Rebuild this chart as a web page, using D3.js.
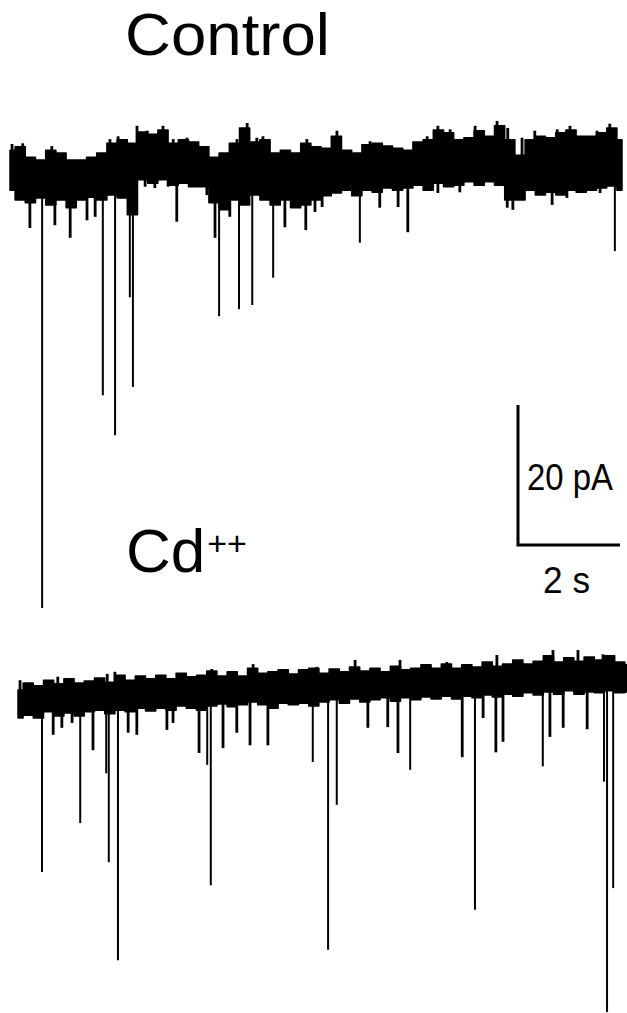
<!DOCTYPE html>
<html>
<head>
<meta charset="utf-8">
<script src="https://cdn.jsdelivr.net/npm/d3@7"></script>
<style>
  body { margin: 0; background: #fff; }
  svg { display: block; }
  text { font-family: "Liberation Sans", Arial, sans-serif; fill: #000; }
</style>
</head>
<body>
<svg id="fig"></svg>
<script>
// Whole-cell recording, two 12 s sweeps. Time in s, current in pA relative to holding level.
const sampleTimes = d3.range(61).map(i => i * 0.2); // envelope read every 0.2 s

// Control: upper / lower edge of the noise band
const controlUpper = [3.1, 3.6, 2.1, 1.7, 3.1, 2.7, 1.7, 1.7, 2.1, 2.7, 4.1, 4.6, 4.1, 5.7, 5.4, 6.0,
  4.1, 4.6, 4.3, 3.6, 2.1, 2.7, 4.1, 6.3, 4.3, 4.6, 2.7, 3.1, 2.7, 4.1, 3.6, 3.4, 5.1, 3.1, 2.7, 3.9,
  4.1, 3.7, 3.4, 3.1, 4.3, 4.6, 6.0, 5.6, 4.6, 4.9, 5.9, 5.1, 6.6, 4.6, 2.4, 4.6, 5.1, 4.9, 5.6, 6.0,
  5.1, 5.1, 5.6, 6.3, 4.6];
const controlLower = [-2.6, -4.0, -4.4, -3.7, -4.7, -4.0, -5.1, -4.0, -3.6, -4.0, -3.3, -3.7, -6.1,
  -1.1, -1.6, -1.1, -1.9, -1.6, -2.1, -2.1, -4.4, -5.4, -4.0, -4.7, -3.3, -4.0, -4.7, -4.0, -5.1, -4.7,
  -4.0, -3.4, -3.0, -2.6, -3.4, -2.6, -2.9, -2.3, -2.6, -2.3, -1.9, -2.6, -1.6, -2.1, -1.9, -1.4, -1.9,
  -1.4, -1.9, -4.0, -4.0, -2.6, -3.3, -2.9, -3.3, -2.6, -2.9, -2.6, -2.3, -2.0, -2.6];

// Control: inward synaptic currents (time, peak)
const controlEventTimes = [0.63, 1.82, 2.06, 2.35, 2.41, 4.10, 4.49, 4.75, 5.16, 0.39, 0.88, 1.18,
  1.51, 1.67, 2.65, 2.84, 3.10, 3.27, 3.59, 3.86, 4.02, 4.31, 5.39, 5.80, 5.98, 6.12, 6.86, 7.25, 7.61,
  7.80, 8.39, 8.82, 9.75, 9.86, 10.20, 10.63, 10.92, 11.57, 11.86];
const controlEventPeaks = [-62.3, -31.9, -37.6, -17.9, -30.7, -20.6, -19.6, -19.0, -15.1, -8.0, -7.6,
  -9.4, -6.9, -6.4, -2.1, -2.3, -2.1, -7.1, -1.9, -3.3, -9.4, -6.4, -7.9, -8.3, -5.7, -5.0, -10.1, -5.1,
  -5.0, -8.6, -3.0, -2.9, -5.1, -5.4, -2.1, -4.7, -3.7, -3.0, -11.3];

// Control: outward noise peaks (time, peak)
const controlUpTimes = [0.04, 0.25, 0.82, 1.96, 2.12, 2.49, 2.69, 3.00, 3.20, 3.47, 4.45, 4.65, 4.84,
  4.96, 5.82, 6.41, 7.06, 8.18, 8.39, 8.63, 9.12, 9.55, 9.76, 10.04, 10.29, 10.73, 10.98, 11.51, 11.76];
const controlUpPeaks = [4.0, 4.1, 3.7, 4.7, 5.1, 6.6, 5.9, 6.6, 4.7, 4.9, 4.7, 7.0, 4.9, 5.1, 4.7,
  5.9, 4.4, 5.1, 6.6, 6.1, 6.6, 7.3, 6.3, 4.9, 5.9, 6.1, 6.6, 5.9, 6.9];

// Cd++: upper / lower edge of the noise band
const cdUpper = [0.0, 1.0, 0.6, 1.4, 0.9, 1.6, 1.0, 1.3, 1.7, 1.1, 2.1, 1.4, 2.0, 1.6, 2.1, 1.6, 2.4,
  1.9, 2.1, 2.7, 2.0, 2.6, 2.0, 3.1, 2.4, 2.6, 2.9, 2.3, 2.9, 3.1, 2.4, 3.0, 2.6, 3.3, 2.7, 3.1, 2.6,
  3.4, 2.9, 3.1, 3.6, 3.1, 3.7, 3.1, 3.6, 3.3, 4.0, 3.4, 3.7, 4.3, 3.7, 4.1, 4.9, 4.0, 4.6, 4.1, 4.7,
  4.3, 4.9, 4.0, 3.6];
const cdLower = [-4.0, -3.6, -4.0, -3.1, -3.7, -3.3, -3.7, -3.1, -2.9, -3.4, -2.9, -3.1, -2.6, -3.0,
  -2.6, -2.9, -2.3, -2.6, -2.9, -2.3, -2.0, -2.4, -2.1, -1.7, -2.1, -2.6, -1.9, -2.1, -1.9, -2.3, -1.7,
  -1.4, -1.9, -1.3, -1.7, -1.4, -1.1, -1.6, -1.1, -1.4, -1.0, -1.3, -0.9, -1.3, -0.9, -1.1, -0.7, -1.0,
  -0.6, -0.9, -0.4, -0.7, -0.3, -0.6, -0.1, -0.6, -0.3, -0.4, -0.1, -0.4, -0.3];

// Cd++: inward synaptic currents (time, peak)
const cdEventTimes = [0.47, 1.22, 1.47, 1.73, 1.78, 1.96, 0.69, 3.55, 3.71, 3.78, 4.02, 4.55, 4.90,
  5.78, 6.08, 6.25, 6.86, 7.45, 7.69, 8.71, 8.96, 9.37, 9.51, 10.29, 10.69, 11.16, 11.49, 11.55, 11.67,
  0.86, 1.06, 2.16, 2.33, 2.92, 3.04, 4.29, 7.25, 9.12, 10.43];
const cdEventPeaks = [-26.0, -19.0, -8.6, -11.9, -24.6, -38.6, -6.4, -9.0, -10.7, -27.9, -8.3, -7.9,
  -7.9, -10.3, -37.1, -16.4, -5.4, -9.0, -11.4, -9.6, -31.4, -8.9, -7.4, -10.9, -5.4, -5.6, -13.1,
  -46.0, -28.3, -5.4, -4.7, -6.1, -6.4, -5.7, -4.7, -6.1, -5.3, -4.0, -6.7];

// Cd++: outward noise peaks (time, peak)
const cdUpTimes = [0.04, 0.78, 1.75, 1.90, 3.80, 4.61, 5.86, 6.61, 7.49, 8.41, 9.39, 10.49, 10.98, 11.47];
const cdUpPeaks = [1.4, 1.9, 2.3, 2.6, 3.0, 3.7, 3.3, 4.3, 4.3, 4.0, 5.0, 5.7, 5.7, 5.1];

const traceLabels = ["Control", "Cd++"];
const scaleBar = { pA: 20, s: 2 };

const width = 627, height = 1013;
const svg = d3.select("#fig").attr("width", width).attr("height", height);
svg.append("rect").attr("width", width).attr("height", height).attr("fill", "#fff");

const x = d3.scaleLinear().domain([0, 12]).range([0, 612]);
const y = d3.scaleLinear().domain([0, -20]).range([0, 140]); // downward = inward current

const band = d3.area()
  .curve(d3.curveStep)
  .x(d => x(d.t))
  .y0(d => y(d.lo))
  .y1(d => y(d.hi));

function drawTrace(ox, oy, upper, lower, evT, evA, upT, upA) {
  const g = svg.append("g").attr("transform", `translate(${ox},${oy})`);
  const rows = sampleTimes.map((t, i) => ({ t, hi: upper[i], lo: lower[i] }));

  g.append("path")
    .datum(rows)
    .attr("d", band)
    .attr("fill", "#000")
    .attr("stroke", "#000")
    .attr("stroke-width", 1.5)
    .attr("stroke-linejoin", "round");

  const spikes = evT.map((t, i) => ({ t, a: evA[i] }))
    .concat(upT.map((t, i) => ({ t, a: upA[i] })));

  // events drop (or rise) from the band
  g.selectAll("line.ev")
    .data(spikes)
    .join("line")
    .attr("class", "ev")
    .attr("x1", d => x(d.t))
    .attr("x2", d => x(d.t))
    .attr("y1", 0)
    .attr("y2", d => y(d.a))
    .attr("stroke", "#000")
    .attr("stroke-width", d => d.a < -10 ? 2 : 2.8);
}

drawTrace(10, 172, controlUpper, controlLower, controlEventTimes, controlEventPeaks, controlUpTimes, controlUpPeaks);
drawTrace(18, 690, cdUpper, cdLower, cdEventTimes, cdEventPeaks, cdUpTimes, cdUpPeaks);

// labels
svg.append("text")
  .attr("x", 125).attr("y", 55)
  .attr("font-size", 60)
  .attr("textLength", 205).attr("lengthAdjust", "spacingAndGlyphs")
  .text(traceLabels[0]);

const cd = svg.append("text").attr("x", 126).attr("y", 572).attr("font-size", 62);
cd.append("tspan").text(traceLabels[1].slice(0, 2));
cd.append("tspan").attr("font-size", 34).attr("dy", -17).attr("dx", 2).text(traceLabels[1].slice(2));

// scale bar: 20 pA up, 2 s across
const sb = svg.append("g").attr("transform", "translate(518,545)");
sb.append("path")
  .attr("d", `M0,${y(scaleBar.pA)}V0H${x(scaleBar.s)}`)
  .attr("fill", "none")
  .attr("stroke", "#000")
  .attr("stroke-width", 3);

sb.append("text")
  .attr("x", 9).attr("y", -55)
  .attr("font-size", 37)
  .attr("textLength", 86).attr("lengthAdjust", "spacingAndGlyphs")
  .text(`${scaleBar.pA} pA`);

sb.append("text")
  .attr("x", 25).attr("y", 48)
  .attr("font-size", 37)
  .attr("textLength", 47).attr("lengthAdjust", "spacingAndGlyphs")
  .text(`${scaleBar.s} s`);
</script>
</body>
</html>
